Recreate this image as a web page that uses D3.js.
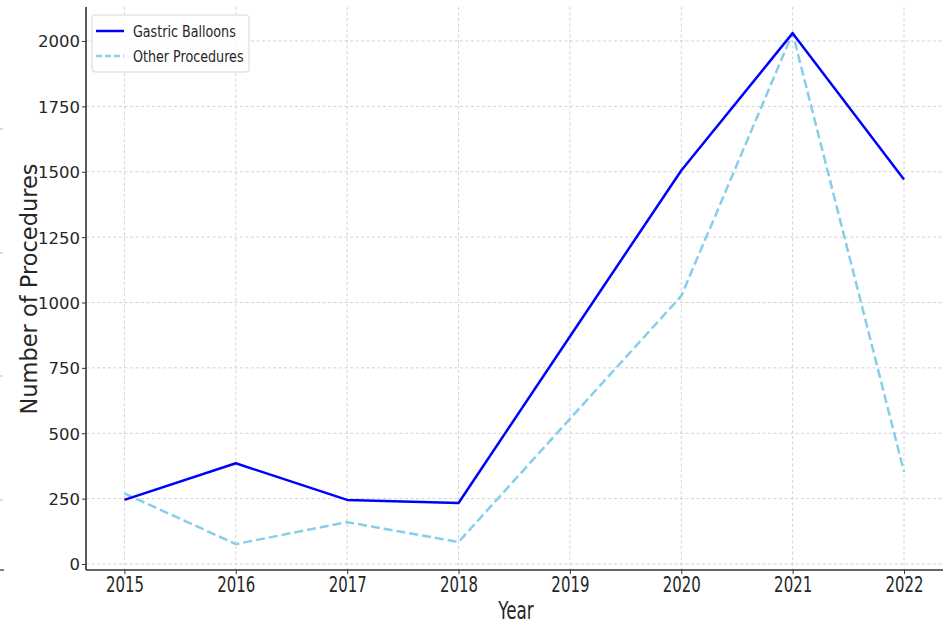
<!DOCTYPE html>
<html>
<head>
<meta charset="utf-8">
<script src="https://cdn.jsdelivr.net/npm/d3@7"></script>
<style>
  html, body { margin: 0; padding: 0; background: #fff; }
  svg { display: block; }
  text { font-family: "DejaVu Sans", sans-serif; fill: #262626; }
</style>
</head>
<body>
<svg id="chart" width="943" height="625"></svg>
<script>
const years = [2015, 2016, 2017, 2018, 2019, 2020, 2021, 2022];
const gastricBalloons = [245, 385, 245, 233, 870, 1505, 2030, 1470];
const otherProcedures = [270, 76, 160, 84, 555, 1025, 2030, 352];
const yTicks = [0, 250, 500, 750, 1000, 1250, 1500, 1750, 2000];
const seriesNames = ["Gastric Balloons", "Other Procedures"];

const svg = d3.select("#chart");
const pLeft = 86, pRight = 943, pTop = 7, pBottom = 570;

const x = d3.scaleLinear().domain([2014.655, 2022.35]).range([pLeft, pRight]);
const y = d3.scaleLinear().domain([-23, 2130]).range([pBottom, pTop]);

// stray marks at far left (cropped neighbour figure)
svg.append("g").selectAll("line").data([129, 253, 376, 500]).join("line")
  .attr("x1", 0).attr("x2", 3).attr("y1", d => d).attr("y2", d => d)
  .attr("stroke", "#bbb").attr("stroke-width", 1);
svg.append("line").attr("x1", 0).attr("x2", 4).attr("y1", 570).attr("y2", 570)
  .attr("stroke", "#555").attr("stroke-width", 1.5);

// grid
const grid = svg.append("g");
grid.selectAll(".gx").data(years).join("line")
  .attr("x1", d => x(d)).attr("x2", d => x(d)).attr("y1", pTop).attr("y2", pBottom)
  .attr("stroke", "#c8c8c8").attr("stroke-width", 0.8).attr("stroke-dasharray", "3,2.5");
grid.selectAll(".gy").data(yTicks).join("line")
  .attr("x1", pLeft).attr("x2", pRight).attr("y1", d => y(d)).attr("y2", d => y(d))
  .attr("stroke", "#c8c8c8").attr("stroke-width", 0.8).attr("stroke-dasharray", "3,2.5");

// axes
const xAxis = svg.append("g").attr("transform", `translate(0,${pBottom})`)
  .call(d3.axisBottom(x).tickValues(years).tickFormat(d3.format("d")).tickSize(4).tickSizeOuter(0));
xAxis.select(".domain").remove();
xAxis.selectAll(".tick line").attr("stroke", "#333").attr("stroke-width", 1);
xAxis.selectAll(".tick text")
  .attr("y", 0).attr("dy", 0)
  .attr("transform", "translate(0,22) scale(0.73,1)")
  .style("font-size", "20.5px").style("font-family", "DejaVu Sans, sans-serif").attr("fill", "#262626");

const yAxis = svg.append("g").attr("transform", `translate(${pLeft},0)`)
  .call(d3.axisLeft(y).tickValues(yTicks).tickFormat(d3.format("d")).tickSize(4).tickSizeOuter(0));
yAxis.select(".domain").remove();
yAxis.selectAll(".tick line").attr("stroke", "#333").attr("stroke-width", 1);
yAxis.selectAll(".tick text").attr("x", -6).attr("dy", "0.36em")
  .style("font-size", "16.5px").style("font-family", "DejaVu Sans, sans-serif").attr("fill", "#262626");

// spines
svg.append("line").attr("x1", pLeft).attr("x2", pLeft).attr("y1", pTop).attr("y2", pBottom)
  .attr("stroke", "#333").attr("stroke-width", 1.6);
svg.append("line").attr("x1", pLeft).attr("x2", pRight).attr("y1", pBottom).attr("y2", pBottom)
  .attr("stroke", "#333").attr("stroke-width", 1.6);

// lines
const line = d3.line().x((d, i) => x(years[i])).y(d => y(d));
svg.append("path").datum(otherProcedures).attr("d", line)
  .attr("fill", "none").attr("stroke", "#87CEEB").attr("stroke-width", 2.5)
  .attr("stroke-dasharray", "9,4").attr("stroke-linejoin", "round");
svg.append("path").datum(gastricBalloons).attr("d", line)
  .attr("fill", "none").attr("stroke", "#0000FF").attr("stroke-width", 2.5)
  .attr("stroke-linejoin", "round");

// axis labels
svg.append("text").attr("transform", "translate(516,619) scale(0.7,1)")
  .attr("text-anchor", "middle").style("font-size", "24px").text("Year");
svg.append("text").attr("transform", "translate(37,289) rotate(-90)")
  .attr("text-anchor", "middle").style("font-size", "22.5px").text("Number of Procedures");

// legend
const lg = svg.append("g");
lg.append("rect").attr("x", 92).attr("y", 15).attr("width", 157).attr("height", 57)
  .attr("rx", 3).attr("fill", "#fff").attr("fill-opacity", 0.85)
  .attr("stroke", "#d6d6d6").attr("stroke-width", 1);
const styles = [{c: "#0000FF", dash: null}, {c: "#87CEEB", dash: "6,3"}];
seriesNames.forEach((name, i) => {
  const yy = 31 + i * 25;
  lg.append("line").attr("x1", 96).attr("x2", 124).attr("y1", yy).attr("y2", yy)
    .attr("stroke", styles[i].c).attr("stroke-width", 2.5)
    .attr("stroke-dasharray", styles[i].dash);
  lg.append("text").attr("transform", `translate(133,${yy + 6}) scale(0.77,1)`)
    .style("font-size", "16.5px").text(name);
});
</script>
</body>
</html>
